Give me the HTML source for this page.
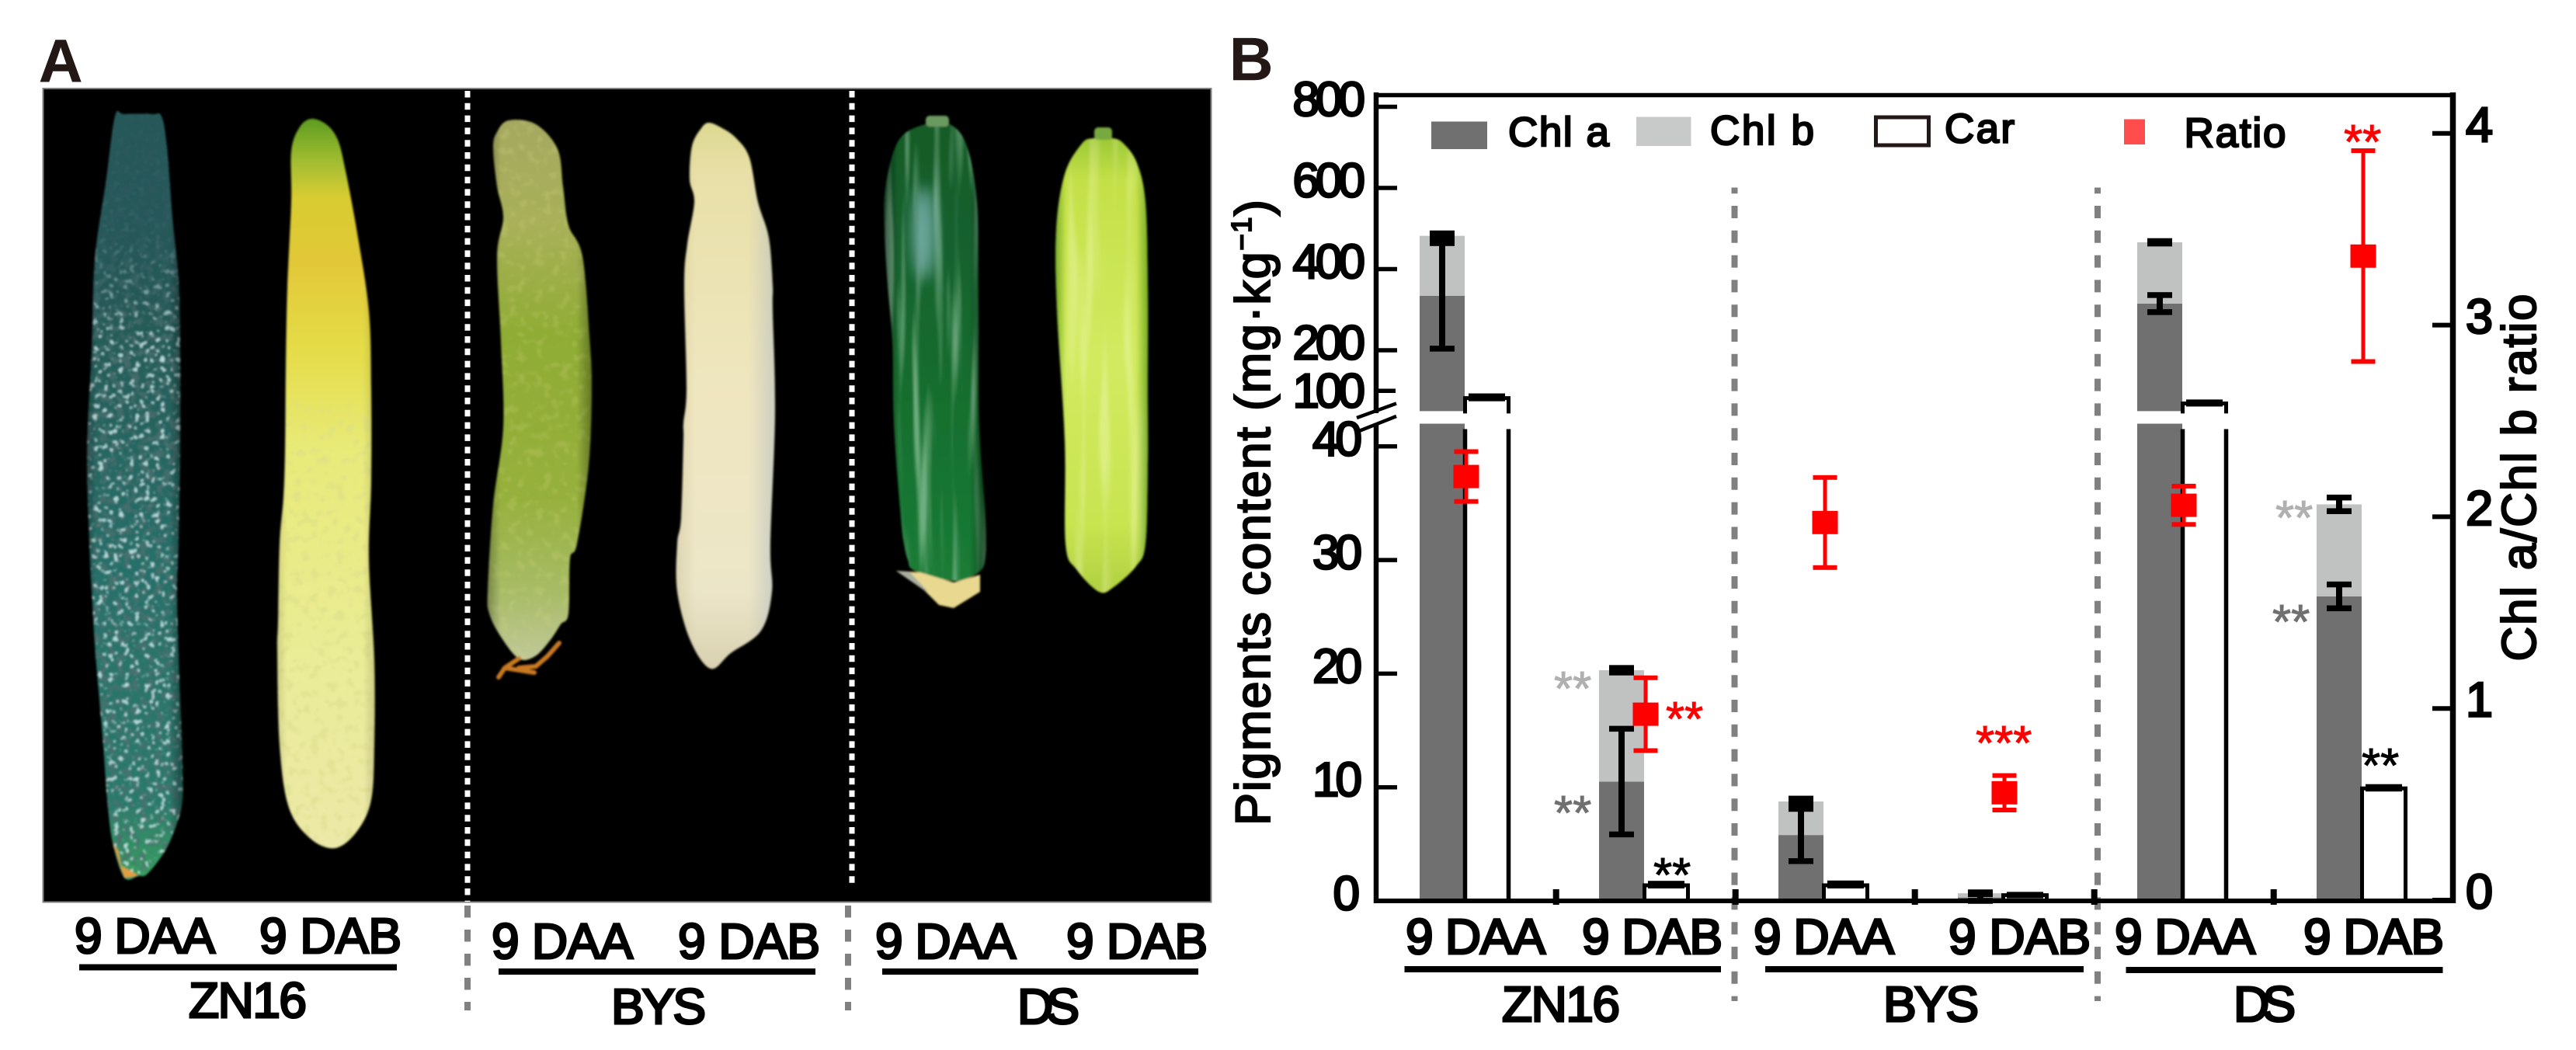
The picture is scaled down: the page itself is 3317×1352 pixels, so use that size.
<!DOCTYPE html>
<html lang="en">
<head>
<meta charset="utf-8">
<title>Cucumber peel colour and pigment content</title>
<style>
html,body{margin:0;padding:0;background:#fff;}
svg{display:block;}
text{font-family:"Liberation Sans",Arial,sans-serif;fill:#000;stroke:#000;stroke-width:2.2px;}
.star{stroke-width:1px;font-size:62px;}
.lab{font-size:64px;stroke-width:3px;}
.leg{font-size:53px;stroke-width:2.4px;}
.tick{stroke-width:2.8px;}
.panel{font-weight:bold;font-size:78px;fill:#231815;stroke:#231815;stroke-width:.5px;}
</style>
</head>
<body>
<svg id="figure" xmlns="http://www.w3.org/2000/svg" width="3317" height="1352" viewBox="0 0 3317 1352">
<defs>
<filter id="soft" x="-5%" y="-5%" width="110%" height="110%"><feGaussianBlur stdDeviation="1.3"/></filter>
<filter id="softBig" x="-40%" y="-40%" width="180%" height="180%"><feGaussianBlur stdDeviation="9"/></filter>
<filter id="speck" x="0" y="0" width="1" height="1">
  <feTurbulence type="fractalNoise" baseFrequency="0.15" numOctaves="2" seed="4"/>
  <feColorMatrix type="matrix" values="0 0 0 0 .62  0 0 0 0 .86  0 0 0 0 .88  9 0 0 0 -5.4"/>
</filter>
<filter id="darkspeck" x="0" y="0" width="1" height="1">
  <feTurbulence type="fractalNoise" baseFrequency="0.1" numOctaves="2" seed="9"/>
  <feColorMatrix type="matrix" values="0 0 0 0 .08  0 0 0 0 .16  0 0 0 0 .16  7 0 0 0 -3.5"/>
</filter>
<filter id="yellowspeck" x="0" y="0" width="1" height="1">
  <feTurbulence type="fractalNoise" baseFrequency="0.09" numOctaves="2" seed="12"/>
  <feColorMatrix type="matrix" values="0 0 0 0 .70  0 0 0 0 .72  0 0 0 0 .25  6 0 0 0 -3.2"/>
</filter>
<filter id="streakLight" x="0" y="0" width="1" height="1">
  <feTurbulence type="fractalNoise" baseFrequency="0.08 0.004" numOctaves="2" seed="6"/>
  <feColorMatrix type="matrix" values="0 0 0 0 .45  0 0 0 0 .72  0 0 0 0 .52  4 0 0 0 -2"/>
</filter>
<filter id="streakLime" x="0" y="0" width="1" height="1">
  <feTurbulence type="fractalNoise" baseFrequency="0.06 0.004" numOctaves="2" seed="3"/>
  <feColorMatrix type="matrix" values="0 0 0 0 .90  0 0 0 0 .96  0 0 0 0 .52  4 0 0 0 -2"/>
</filter>
<linearGradient id="g1" x1="0" y1="0" x2="0" y2="1"><stop offset="0" stop-color="#2a5a5c"/><stop offset=".25" stop-color="#245a56"/><stop offset=".6" stop-color="#28706a"/><stop offset=".9" stop-color="#2b7a6c"/><stop offset="1" stop-color="#3aa060"/></linearGradient>
<linearGradient id="fade1" x1="0" y1="0" x2="0" y2="1"><stop offset="0" stop-color="#28585a" stop-opacity="1"/><stop offset=".55" stop-color="#28585a" stop-opacity=".9"/><stop offset="1" stop-color="#28585a" stop-opacity="0"/></linearGradient>
<linearGradient id="g2" x1="0" y1="0" x2="0" y2="1"><stop offset="0" stop-color="#5a9a20"/><stop offset=".06" stop-color="#a0bc30"/><stop offset=".11" stop-color="#d8cc30"/><stop offset=".2" stop-color="#e2c838"/><stop offset=".32" stop-color="#e4dc48"/><stop offset=".45" stop-color="#e8ea78"/><stop offset=".75" stop-color="#eaec98"/><stop offset="1" stop-color="#ece8a8"/></linearGradient>
<linearGradient id="g3" x1="0" y1="0" x2="0" y2="1"><stop offset="0" stop-color="#a4a860"/><stop offset=".2" stop-color="#a8b058"/><stop offset=".4" stop-color="#8fac34"/><stop offset=".7" stop-color="#96b03c"/><stop offset=".88" stop-color="#a8bc68"/><stop offset="1" stop-color="#c0c898"/></linearGradient>
<linearGradient id="g4" x1="0" y1="0" x2="0" y2="1"><stop offset="0" stop-color="#dcd890"/><stop offset=".1" stop-color="#e8e0a8"/><stop offset=".5" stop-color="#efe6c0"/><stop offset=".85" stop-color="#ece6c8"/><stop offset="1" stop-color="#d8d0b0"/></linearGradient>
<linearGradient id="g5" x1="0" y1="0" x2="0" y2="1"><stop offset="0" stop-color="#125a24"/><stop offset=".25" stop-color="#14602e"/><stop offset=".6" stop-color="#176e2e"/><stop offset="1" stop-color="#1a7c36"/></linearGradient>
<linearGradient id="g6" x1="0" y1="0" x2="0" y2="1"><stop offset="0" stop-color="#90c030"/><stop offset=".12" stop-color="#c4e048"/><stop offset=".5" stop-color="#d2ea60"/><stop offset=".85" stop-color="#c8e450"/><stop offset="1" stop-color="#b0d040"/></linearGradient>
<linearGradient id="edgeDark" x1="0" y1="0" x2="1" y2="0"><stop offset="0" stop-color="#000" stop-opacity=".45"/><stop offset=".14" stop-color="#000" stop-opacity="0"/><stop offset=".84" stop-color="#000" stop-opacity="0"/><stop offset="1" stop-color="#000" stop-opacity=".5"/></linearGradient>
<linearGradient id="edgeGreen" x1="0" y1="0" x2="1" y2="0"><stop offset="0" stop-color="#5a9a10" stop-opacity=".8"/><stop offset=".12" stop-color="#5a9a10" stop-opacity="0"/><stop offset=".86" stop-color="#5a9a10" stop-opacity="0"/><stop offset="1" stop-color="#5a9a10" stop-opacity=".85"/></linearGradient>
<linearGradient id="edgeCream" x1="0" y1="0" x2="1" y2="0"><stop offset="0" stop-color="#a8a070" stop-opacity=".25"/><stop offset=".2" stop-color="#a8a070" stop-opacity="0"/><stop offset=".72" stop-color="#b8c0c0" stop-opacity="0"/><stop offset=".95" stop-color="#b8c0c0" stop-opacity=".55"/></linearGradient>
<clipPath id="c1"><polygon points="148,150 160,147 196,147 208,150 215,190 222,280 230,360 232,440 232,580 230,700 228,760 230,840 232,900 235,980 235,1030 228,1060 213,1095 190,1125 178,1128 160,1130 145,1085 138,1030 133,960 127,890 122,830 118,760 115,700 112,580 118,450 122,335 137,230"/></clipPath>
<clipPath id="c2"><polygon points="400,153 420,160 435,180 445,220 460,300 475,400 478,500 478,620 475,720 482,850 482,960 478,1030 460,1070 432,1092 400,1080 372,1040 360,960 357,840 358,800 360,700 365,640 367,580 368,470 370,370 375,260 375,195 385,165"/></clipPath>
<clipPath id="c3"><polygon points="655,155 690,160 718,192 725,240 732,290 750,330 759,433 762,500 758,600 743,700 734,720 732,790 722,804 708,825 689,845 668,848 645,820 630,790 628,760 635,650 648,550 645,440 640,330 648,280 640,240 635,190 640,170"/></clipPath>
<clipPath id="c4"><polygon points="913,158 930,165 948,178 965,203 976,260 990,306 995,367 995,400 998,533 992,700 994,762 980,812 941,841 915,861 889,825 872,762 872,700 877,667 880,567 880,545 884,500 881,367 885,314 894,260 888,231 891,188 903,165"/></clipPath>
<clipPath id="c5"><polygon points="1191,160 1223,160 1245,188 1258,260 1260,367 1261,546 1269,667 1269,717 1260,737 1228,748 1178,735 1169,721 1164,700 1160,667 1151,546 1149,439 1143,367 1139,296 1140,242 1157,181"/></clipPath>
<clipPath id="c6"><polygon points="1408,178 1433,178 1447,185 1464,210 1475,260 1478,367 1478,500 1478,600 1475,700 1463,729 1434,756 1415,762 1386,733 1372,700 1371,567 1361,400 1360,296 1371,224 1393,185"/></clipPath>
</defs>

<rect width="3317" height="1352" fill="#fff"/>

<g id="panel-a">
  <text class="panel" x="50" y="105">A</text>
  <rect x="55.5" y="114" width="1504" height="1047.5" fill="#000" stroke="#808080" stroke-width="2"/>

  <g filter="url(#soft)">
  <g clip-path="url(#c1)">
    <rect x="105" y="140" width="135" height="995" fill="url(#g1)"/>
    <rect x="105" y="140" width="135" height="995" filter="url(#darkspeck)" opacity=".7"/>
    <rect x="105" y="140" width="135" height="995" filter="url(#speck)" opacity=".85"/>
    <rect x="105" y="140" width="135" height="300" fill="url(#fade1)"/>
    <rect x="105" y="140" width="135" height="995" fill="url(#edgeDark)"/>
  </g>
  <polygon points="145,1085 152,1095 156,1115 170,1122 178,1128 160,1130" fill="#e0a040"/>
  <g clip-path="url(#c2)">
    <rect x="350" y="150" width="140" height="945" fill="url(#g2)"/>
    <rect x="350" y="520" width="140" height="575" filter="url(#yellowspeck)" opacity=".5"/>
    <rect x="350" y="150" width="140" height="945" fill="url(#edgeDark)" opacity=".4"/>
  </g>
  <g clip-path="url(#c3)">
    <rect x="625" y="150" width="140" height="700" fill="url(#g3)"/>
    <rect x="625" y="150" width="140" height="700" filter="url(#yellowspeck)" opacity=".2"/>
    <rect x="625" y="150" width="140" height="700" fill="url(#edgeDark)" opacity=".75"/>
  </g>
  <path d="M668,848 L650,860 L642,872 M668,860 L690,858 L705,845 L720,828 M650,860 L688,866" fill="none" stroke="#c87820" stroke-width="6" stroke-linecap="round"/>
  <g clip-path="url(#c4)">
    <rect x="870" y="155" width="130" height="710" fill="url(#g4)"/>
    <rect x="870" y="155" width="130" height="710" fill="url(#edgeCream)"/>
  </g>
  <g clip-path="url(#c5)">
    <rect x="1138" y="148" width="132" height="602" fill="url(#g5)"/>
    <rect x="1138" y="148" width="132" height="602" filter="url(#streakLight)" opacity=".55"/>
    <ellipse cx="1190" cy="300" rx="14" ry="60" fill="#70a8a0" filter="url(#softBig)"/>
    <rect x="1138" y="148" width="132" height="602" fill="url(#edgeDark)"/>
  </g>
  <rect x="1192" y="149" width="30" height="14" rx="5" fill="#6a9a60"/>
  <polygon points="1154,735 1185,737 1228,750 1262,740 1262,762 1228,783 1209,779 1190,760" fill="#e8d890"/>
  <polygon points="1154,735 1172,737 1195,762 1190,760" fill="#a8b0a0"/>
  <g clip-path="url(#c6)">
    <rect x="1358" y="160" width="122" height="605" fill="url(#g6)"/>
    <rect x="1358" y="160" width="122" height="605" filter="url(#streakLime)" opacity=".4"/>
    <rect x="1358" y="160" width="122" height="605" fill="url(#edgeGreen)"/>
  </g>
  <rect x="1409" y="164" width="23" height="16" rx="5" fill="#78a840"/>
  </g>

  <line x1="602" y1="117" x2="602" y2="1161" stroke="#fff" stroke-width="7" stroke-dasharray="8.5 7.3"/>
  <line x1="1097" y1="117" x2="1097" y2="1143" stroke="#fff" stroke-width="7" stroke-dasharray="8.5 7.3"/>
  <line x1="602" y1="1166" x2="602" y2="1301" stroke="#808080" stroke-width="8" stroke-dasharray="15.5 15.5"/>
  <line x1="1092" y1="1166" x2="1092" y2="1301" stroke="#808080" stroke-width="8" stroke-dasharray="15.5 15.5"/>

  <text class="lab" x="96" y="1227" textLength="181">9 DAA</text>
  <text class="lab" x="334" y="1227" textLength="183">9 DAB</text>
  <rect x="102" y="1241.5" width="409" height="8"/>
  <text class="lab" x="243" y="1310" textLength="152">ZN16</text>
  <text class="lab" x="633" y="1234" textLength="182">9 DAA</text>
  <text class="lab" x="873" y="1234" textLength="183">9 DAB</text>
  <rect x="642" y="1247" width="408" height="8"/>
  <text class="lab" x="787" y="1318" textLength="122">BYS</text>
  <text class="lab" x="1127" y="1234" textLength="181">9 DAA</text>
  <text class="lab" x="1373" y="1234" textLength="182">9 DAB</text>
  <rect x="1136" y="1247" width="407" height="8"/>
  <text class="lab" x="1310" y="1318" textLength="80">DS</text>
</g>

<g id="panel-b">
  <text class="panel" x="1583" y="103">B</text>
  <g id="marks-under"></g>

  <line x1="2233.5" y1="241.5" x2="2233.5" y2="1289" stroke="#808080" stroke-width="8" stroke-dasharray="16 15.8" stroke-dashoffset="8.3"/>
  <line x1="2701" y1="241.5" x2="2701" y2="1289" stroke="#808080" stroke-width="8" stroke-dasharray="16 15.8" stroke-dashoffset="8.3"/>

  <g id="axes">
    <line x1="1769" y1="122.5" x2="3162" y2="122.5" stroke="#000" stroke-width="5.5"/>
    <line x1="1769" y1="1160" x2="3162" y2="1160" stroke="#000" stroke-width="6"/>
    <line x1="1772" y1="119" x2="1772" y2="532" stroke="#000" stroke-width="6.5"/>
    <line x1="1772" y1="546" x2="1772" y2="1163" stroke="#000" stroke-width="6.5"/>
    <line x1="1747" y1="538" x2="1798" y2="519.5" stroke="#000" stroke-width="4.5"/>
    <line x1="1750" y1="555" x2="1798" y2="536" stroke="#000" stroke-width="4.5"/>
    <line x1="3158.5" y1="119" x2="3158.5" y2="1163" stroke="#000" stroke-width="7.5"/>
  </g>
  <g id="ticks"></g>
  <g id="marks-over"></g>

  <text id="y-title-left" transform="translate(1635,1063) rotate(-90)" font-size="63" textLength="806">Pigments content (mg·kg<tspan font-size="36" dy="-24">−1</tspan><tspan dy="24">)</tspan></text>
  <text id="y-title-right" transform="translate(3265,851.5) rotate(-90)" font-size="62" textLength="473">Chl a/Chl b ratio</text>

  <g>
    <rect x="1843" y="156.5" width="72" height="35.5" fill="#707070"/>
    <text class="leg" x="1942" y="188" textLength="130">Chl a</text>
    <rect x="2107" y="150.5" width="70.5" height="37.5" fill="#c8caca"/>
    <text class="leg" x="2202" y="186" textLength="134">Chl b</text>
    <rect x="2415.5" y="151" width="68" height="36" fill="#fff" stroke="#231815" stroke-width="5"/>
    <text class="leg" x="2504" y="183.5" textLength="90">Car</text>
    <rect x="2735" y="153.5" width="27" height="32.5" fill="#ff4d4d"/>
    <text class="leg" x="2812.5" y="189" textLength="131">Ratio</text>
  </g>

  <text class="lab" x="1810" y="1228" textLength="180">9 DAA</text>
  <text class="lab" x="2037" y="1228" textLength="181">9 DAB</text>
  <text class="lab" x="2258" y="1228" textLength="181">9 DAA</text>
  <text class="lab" x="2509" y="1228" textLength="183">9 DAB</text>
  <text class="lab" x="2723" y="1228" textLength="181">9 DAA</text>
  <text class="lab" x="2966" y="1228" textLength="181">9 DAB</text>
  <rect x="1808.5" y="1244" width="407.5" height="8"/>
  <rect x="2273" y="1244" width="410" height="8"/>
  <rect x="2737.5" y="1245" width="408" height="8"/>
  <text class="lab" x="1934" y="1315" textLength="152">ZN16</text>
  <text class="lab" x="2425" y="1315" textLength="123">BYS</text>
  <text class="lab" x="2876" y="1315" textLength="80">DS</text>

  <g>
    <text class="star" x="2001" y="908" style="fill:#b0b0b0;stroke:#b0b0b0">**</text>
    <text class="star" x="2001" y="1068" style="fill:#707070;stroke:#707070">**</text>
    <text class="star" x="2145" y="947" style="fill:#ff0000;stroke:#ff0000">**</text>
    <text class="star" x="2129" y="1148" style="fill:#000;stroke:#000">**</text>
    <text class="star" x="2544" y="978" style="fill:#ff0000;stroke:#ff0000">***</text>
    <text class="star" x="3018" y="204" style="fill:#ff0000;stroke:#ff0000">**</text>
    <text class="star" x="2930" y="688" style="fill:#b0b0b0;stroke:#b0b0b0">**</text>
    <text class="star" x="2926" y="822" style="fill:#707070;stroke:#707070">**</text>
    <text class="star" x="3041" y="1007" style="fill:#000;stroke:#000">**</text>
  </g>
</g>
</svg>

<script>
const categories = ['ZN16 9 DAA', 'ZN16 9 DAB', 'BYS 9 DAA', 'BYS 9 DAB', 'DS 9 DAA', 'DS 9 DAB'];
const chlA = [334, 10.5, 5.8, 0.3, 315, 26.8];
const chlB = [148, 9.8, 2.95, 0.37, 151, 8.1];
const chlAErr = [130, 4.65, 2.3, 0.3, 21, 1.05];
const chlBErr = [6, 0.2, 0.25, 0.08, 3, 0.6];
const car = [82, 1.37, 1.37, 0.5, 69, 9.9];
const carErr = [4, 0.12, 0.15, 0.02, 2, 0.1];
const ratio = [2.21, 0.97, 1.97, 0.56, 2.06, 3.36];
const ratioErr = [0.13, 0.19, 0.235, 0.09, 0.1, 0.55];
const leftTicks = [800, 600, 400, 200, 100, 40, 30, 20, 10, 0];
const rightTicks = [4, 3, 2, 1, 0];
const xBoundaries = [0, 1, 2, 3, 4];

const SVG_NS = 'http://www.w3.org/2000/svg';
const under = document.getElementById('marks-under');
const over = document.getElementById('marks-over');
const tickLayer = document.getElementById('ticks');

// Round the photo outlines: replace each clip polygon with a Catmull-Rom curve.
document.querySelectorAll('clipPath polygon').forEach(function (poly) {
  const pts = poly.getAttribute('points').trim().split(/\s+/).map(function (p) { return p.split(',').map(Number); });
  const n = pts.length;
  let d = 'M' + pts[0][0] + ',' + pts[0][1];
  for (let i = 0; i < n; i++) {
    const p0 = pts[(i - 1 + n) % n], p1 = pts[i], p2 = pts[(i + 1) % n], p3 = pts[(i + 2) % n];
    d += 'C' + (p1[0] + (p2[0] - p0[0]) / 6) + ',' + (p1[1] + (p2[1] - p0[1]) / 6) + ' ' +
         (p2[0] - (p3[0] - p1[0]) / 6) + ',' + (p2[1] - (p3[1] - p1[1]) / 6) + ' ' + p2[0] + ',' + p2[1];
  }
  const path = document.createElementNS(SVG_NS, 'path');
  path.setAttribute('d', d + 'Z');
  poly.parentNode.replaceChild(path, poly);
});

const BREAK_LOW = 42, BREAK_HIGH = 50;
function yLeft(v) {
  return v <= 46 ? 1160 - v * 14.63 : 137.5 + (800 - v) * 0.5225;
}
function yRight(v) { return 1159 - v * 246.8; }
function chlX(i) { return 1828 + 231 * i; }
function carX(i) { return 1884 + 231 * i; }
function ratioX(i) { return 1888 + 231 * i; }
function slug(i) { return categories[i].toLowerCase().replace(/ /g, '-'); }

function shape(tag, attrs, parent) {
  const el = document.createElementNS(SVG_NS, tag);
  for (const k in attrs) el.setAttribute(k, attrs[k]);
  parent.appendChild(el);
  return el;
}

function segment(i, from, to, fill, label) {
  const parts = (from <= BREAK_LOW && to >= BREAK_HIGH)
    ? [[from, BREAK_LOW], [BREAK_HIGH, to]]
    : [[from, to]];
  parts.forEach(function (p) {
    const el = shape('rect', { x: chlX(i), y: yLeft(p[1]), width: 58, height: yLeft(p[0]) - yLeft(p[1]), fill: fill }, under);
    
    
  });
}

function errorBar(cx, lo, hi, capW, scale, colour, lineW, capH, parent, label) {
  const stem = shape('line', { x1: cx, x2: cx, y1: scale(hi), y2: scale(lo), stroke: colour, 'stroke-width': lineW }, parent);
  
  
  [lo, hi].forEach(function (v) {
    const cap = shape('rect', { x: cx - capW / 2, y: scale(v) - capH / 2, width: capW, height: capH, fill: colour }, parent);
    
    
  });
}

function carBar(i) {
  const left = carX(i) + 2.5, right = carX(i) + 58.5, top = yLeft(car[i]);
  if (car[i] >= BREAK_HIGH) {
    const upperFill = shape('rect', { x: left, y: top, width: right - left, height: yLeft(BREAK_HIGH) - top, fill: '#fff' }, under);
    
    
    const lowerFill = shape('rect', { x: left, y: yLeft(BREAK_LOW), width: right - left, height: 1160 - yLeft(BREAK_LOW), fill: '#fff' }, under);
    
    
    const upper = shape('path', { d: 'M' + left + ',' + (yLeft(BREAK_HIGH) + 3) + 'V' + top + 'H' + right + 'V' + (yLeft(BREAK_HIGH) + 3), fill: 'none', stroke: '#000', 'stroke-width': 5 }, under);
    
    
    const lower = shape('path', { d: 'M' + left + ',' + (yLeft(BREAK_LOW) + 7) + 'V1160M' + right + ',' + (yLeft(BREAK_LOW) + 7) + 'V1160', fill: 'none', stroke: '#000', 'stroke-width': 5.5 }, under);
    
    
  } else {
    const bar = shape('rect', { x: left, y: top, width: right - left, height: 1160 - top, fill: '#fff', stroke: '#000', 'stroke-width': 5 }, under);
    
    
  }
}

categories.forEach(function (c, i) {
  segment(i, 0, chlA[i], '#707070', 'bar-chl-a');
  segment(i, chlA[i], chlA[i] + chlB[i], '#c0c2c2', 'bar-chl-b');
});
categories.forEach(function (c, i) { carBar(i); });
categories.forEach(function (c, i) {
  const cx = chlX(i) + 29;
  errorBar(cx, chlA[i] - chlAErr[i], chlA[i] + chlAErr[i], 32, yLeft, '#000', 8, 7.5, under, 'error-chl-a-' + slug(i));
  const total = chlA[i] + chlB[i];
  errorBar(cx, total - chlBErr[i], total + chlBErr[i], 32, yLeft, '#000', 8, 7.5, under, 'error-chl-b-' + slug(i));
  errorBar(carX(i) + 30.5, car[i], car[i] + carErr[i], 47, yLeft, '#000', 5, 8, under, 'error-car-' + slug(i));
});

categories.forEach(function (c, i) {
  const cx = ratioX(i);
  errorBar(cx, ratio[i] - ratioErr[i], ratio[i] + ratioErr[i], 31, yRight, '#ff0000', 5, 6, over, 'error-ratio-' + slug(i));
  const m = shape('rect', { x: cx - 16.5, y: yRight(ratio[i]) - 15, width: 33, height: 30, fill: '#ff0000' }, over);
  
  
});

leftTicks.forEach(function (v) {
  const y = yLeft(v);
  const t = shape('line', { x1: 1772, x2: v === 100 ? 1797 : 1799, y1: y, y2: y, stroke: '#000', 'stroke-width': v === 0 ? 0 : 5.5 }, tickLayer);
  
  
  const right = v === 0 ? 1746 : (v <= 40 ? 1749 : 1753);
  const lab = shape('text', { x: right, y: y + (v === 100 ? 21 : 11.5), 'text-anchor': 'end', 'font-size': 62, 'letter-spacing': -5, class: 'tick' }, tickLayer);
  lab.textContent = String(v);
  
  
});

rightTicks.forEach(function (v) {
  const y = yRight(v);
  const t = shape('line', { x1: 3132, x2: 3158, y1: y, y2: y, stroke: '#000', 'stroke-width': 6 }, tickLayer);
  
  
  const lab = shape('text', { x: 3175, y: y + 10.5, 'font-size': 63, class: 'tick' }, tickLayer);
  lab.textContent = String(v);
  
  
});

xBoundaries.forEach(function (b) {
  const x = 2003.7 + b * 231;
  const t = shape('line', { x1: x, x2: x, y1: 1145, y2: 1165, stroke: '#000', 'stroke-width': 8 }, tickLayer);
  
  
});
</script>
</body>
</html>
